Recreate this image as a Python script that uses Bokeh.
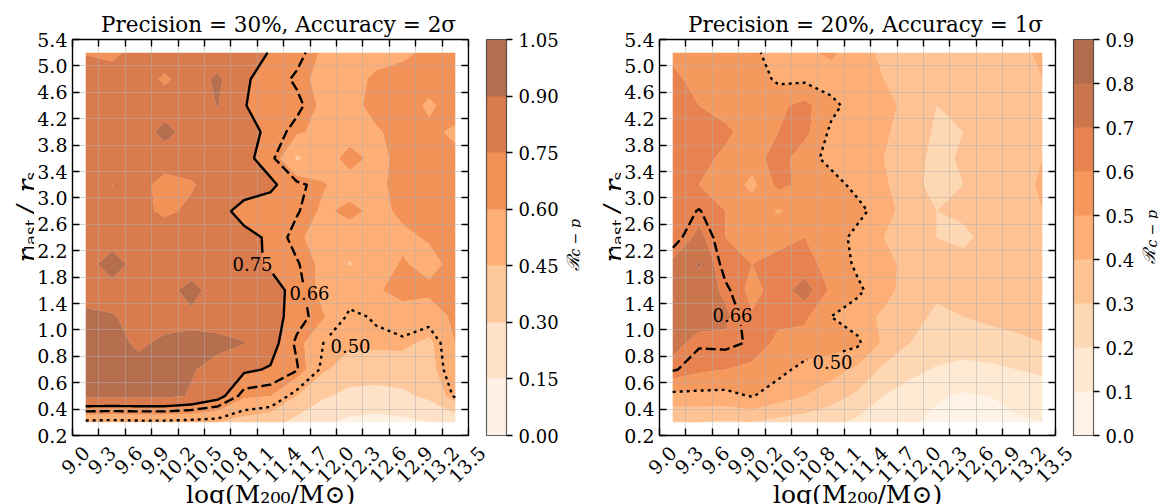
import math
import numpy as np
from contourpy import contour_generator
from bokeh.plotting import figure
from bokeh.layouts import row
from bokeh.models import (BoxAnnotation, ColorBar, FixedTicker, Label, LinearAxis,
                          LinearColorMapper, PrintfTickFormatter, Range1d, Title)
from bokeh.embed import file_html
from bokeh.resources import INLINE

# ---------------------------------------------------------------- data
log_m200 = [9.15, 9.45, 9.75, 10.05, 10.35, 10.65, 10.95, 11.25,
            11.55, 11.85, 12.15, 12.45, 12.75, 13.05, 13.35]
r_last_over_rs = [0.3, 0.5, 0.7, 0.9, 1.2, 1.6, 2.0, 2.4, 2.8,
                  3.2, 3.6, 4.0, 4.4, 4.8, 5.2]

x_tick_labels = ["9.0", "9.3", "9.6", "9.9", "10.2", "10.5", "10.8", "11.1",
                 "11.4", "11.7", "12.0", "12.3", "12.6", "12.9", "13.2", "13.5"]
y_tick_labels = ["0.2", "0.4", "0.6", "0.8", "1.0", "1.4", "1.8", "2.2",
                 "2.6", "3.0", "3.4", "3.8", "4.2", "4.6", "5.0", "5.4"]

levels_p30_a2 = [0.00, 0.15, 0.30, 0.45, 0.60, 0.75, 0.90, 1.05]
levels_p20_a1 = [0.0, 0.1, 0.2, 0.3, 0.4, 0.5, 0.6, 0.7, 0.8, 0.9]

# R_{c-p}: one row per r_last/r_s value, one column per log(M200)
ratio_p30_a2 = [
    [0.47, 0.46, 0.47, 0.47, 0.46, 0.45, 0.40, 0.36, 0.25, 0.17, 0.12, 0.10, 0.12, 0.15, 0.20],
    [0.93, 0.93, 0.93, 0.93, 0.89, 0.80, 0.62, 0.60, 0.45, 0.32, 0.26, 0.25, 0.27, 0.33, 0.52],
    [0.92, 0.93, 0.93, 0.92, 0.91, 0.86, 0.77, 0.74, 0.67, 0.47, 0.38, 0.37, 0.38, 0.40, 0.58],
    [0.93, 0.93, 0.885, 0.92, 0.93, 0.93, 0.905, 0.80, 0.64, 0.50, 0.48, 0.48, 0.48, 0.42, 0.60],
    [0.93, 0.91, 0.86, 0.86, 0.87, 0.85, 0.84, 0.80, 0.70, 0.61, 0.48, 0.51, 0.56, 0.55, 0.62],
    [0.84, 0.84, 0.84, 0.85, 0.95, 0.83, 0.82, 0.81, 0.70, 0.56, 0.55, 0.59, 0.63, 0.62, 0.62],
    [0.83, 0.98, 0.83, 0.82, 0.82, 0.82, 0.80, 0.73, 0.67, 0.57, 0.44, 0.55, 0.61, 0.57, 0.63],
    [0.82, 0.82, 0.83, 0.82, 0.82, 0.81, 0.79, 0.73, 0.62, 0.55, 0.54, 0.55, 0.58, 0.61, 0.62],
    [0.82, 0.81, 0.78, 0.73, 0.77, 0.80, 0.70, 0.70, 0.67, 0.58, 0.63, 0.57, 0.62, 0.63, 0.62],
    [0.82, 0.748, 0.80, 0.70, 0.74, 0.80, 0.82, 0.77, 0.69, 0.61, 0.55, 0.58, 0.63, 0.64, 0.63],
    [0.82, 0.82, 0.83, 0.82, 0.80, 0.81, 0.78, 0.70, 0.43, 0.54, 0.64, 0.57, 0.63, 0.63, 0.62],
    [0.82, 0.83, 0.82, 0.95, 0.83, 0.82, 0.80, 0.72, 0.62, 0.56, 0.55, 0.59, 0.63, 0.62, 0.585],
    [0.82, 0.82, 0.83, 0.82, 0.82, 0.905, 0.755, 0.70, 0.69, 0.57, 0.57, 0.63, 0.65, 0.585, 0.64],
    [0.80, 0.81, 0.82, 0.73, 0.82, 0.93, 0.76, 0.72, 0.64, 0.56, 0.56, 0.62, 0.64, 0.64, 0.63],
    [0.745, 0.72, 0.80, 0.82, 0.82, 0.81, 0.79, 0.745, 0.70, 0.58, 0.55, 0.56, 0.58, 0.62, 0.63],
]

ratio_p20_a1 = [
    [0.30, 0.30, 0.29, 0.30, 0.27, 0.25, 0.22, 0.18, 0.14, 0.11, 0.08, 0.07, 0.08, 0.09, 0.10],
    [0.47, 0.47, 0.47, 0.506, 0.45, 0.40, 0.35, 0.28, 0.20, 0.15, 0.11, 0.09, 0.10, 0.12, 0.14],
    [0.67, 0.62, 0.60, 0.58, 0.53, 0.47, 0.44, 0.38, 0.28, 0.23, 0.19, 0.17, 0.18, 0.20, 0.22],
    [0.73, 0.67, 0.68, 0.65, 0.58, 0.56, 0.55, 0.52, 0.38, 0.30, 0.26, 0.25, 0.26, 0.28, 0.30],
    [0.75, 0.74, 0.72, 0.61, 0.62, 0.62, 0.50, 0.45, 0.38, 0.32, 0.29, 0.30, 0.32, 0.33, 0.34],
    [0.76, 0.76, 0.68, 0.57, 0.64, 0.76, 0.58, 0.52, 0.44, 0.35, 0.31, 0.32, 0.34, 0.36, 0.34],
    [0.72, 0.81, 0.62, 0.60, 0.62, 0.63, 0.57, 0.48, 0.44, 0.36, 0.32, 0.33, 0.35, 0.38, 0.40],
    [0.62, 0.73, 0.60, 0.60, 0.58, 0.60, 0.55, 0.47, 0.40, 0.33, 0.30, 0.28, 0.33, 0.36, 0.38],
    [0.62, 0.665, 0.60, 0.56, 0.49, 0.56, 0.57, 0.53, 0.45, 0.34, 0.30, 0.32, 0.35, 0.37, 0.40],
    [0.63, 0.60, 0.58, 0.47, 0.63, 0.57, 0.54, 0.47, 0.42, 0.32, 0.28, 0.30, 0.33, 0.35, 0.42],
    [0.65, 0.63, 0.58, 0.55, 0.65, 0.54, 0.47, 0.44, 0.40, 0.33, 0.28, 0.31, 0.35, 0.38, 0.40],
    [0.66, 0.63, 0.62, 0.56, 0.60, 0.63, 0.48, 0.44, 0.42, 0.34, 0.29, 0.30, 0.33, 0.36, 0.38],
    [0.64, 0.60, 0.56, 0.56, 0.58, 0.63, 0.53, 0.45, 0.44, 0.36, 0.30, 0.32, 0.31, 0.35, 0.37],
    [0.62, 0.57, 0.55, 0.56, 0.48, 0.48, 0.45, 0.44, 0.40, 0.35, 0.31, 0.33, 0.34, 0.36, 0.40],
    [0.58, 0.55, 0.54, 0.52, 0.46, 0.48, 0.52, 0.44, 0.38, 0.34, 0.31, 0.33, 0.35, 0.37, 0.42],
]

# ---------------------------------------------------------------- geometry / styling
FONT = "DejaVu Serif"
TICK_SIZE = "19px"
CBAR_SIZE = "18px"
FRAME = 396                 # plotted square, 9.0..13.5 by 0.2..5.4
FRAME_W = 412               # frame is a little wider so the last tick label has room
TOP, BOTTOM = 39, 69
X_LO, X_HI = 9.0, 13.5
Y_LO, Y_HI = 0, len(y_tick_labels) - 1
PX_X = FRAME / (X_HI - X_LO)
PX_Y = FRAME / (Y_HI - Y_LO)
X_EDGE = X_LO + FRAME_W / PX_X
LABEL_SHIFT = 13.5 / PX_X   # centres the rotated tick labels under their ticks

ORANGES = ["#fff5eb", "#fee6ce", "#fdd0a2", "#fdae6b", "#fd8d3c",
           "#f16913", "#d94801", "#a63603", "#7f2704"]


def oranges(n):
    """Colour of each of n bands, taken at the band midpoints of the Oranges ramp."""
    anchors = np.array([[int(c[i:i + 2], 16) for i in (1, 3, 5)] for c in ORANGES], float)
    pos = np.linspace(0, 1, len(anchors))
    out = []
    for k in range(n):
        t = (2 * k + 1) / (2 * n)
        rgb = [int(round(np.interp(t, pos, anchors[:, c]))) for c in range(3)]
        out.append("#%02x%02x%02x" % tuple(rgb))
    return out


def fx(px):
    return X_LO + px / PX_X


def fy(py):
    return Y_HI - py / PX_Y


def line_length(ln):
    d = np.diff(ln, axis=0)
    return float(np.hypot(d[:, 0] * PX_X, d[:, 1] * PX_Y).sum())


def cut_line(ln, gap):
    """Densify a contour line and drop the stretch hidden behind its label."""
    gx, gy, hw, hh = gap
    pts = [ln[0]]
    for a, b in zip(ln[:-1], ln[1:]):
        n = max(int(math.hypot((b[0] - a[0]) * PX_X, (b[1] - a[1]) * PX_Y)), 1)
        for t in np.linspace(0, 1, n + 1)[1:]:
            pts.append(a + (b - a) * t)
    pts = np.array(pts)
    keep = ~((np.abs(pts[:, 0] - gx) < hw) & (np.abs(pts[:, 1] - gy) < hh))
    edges = np.flatnonzero(np.diff(np.r_[0, keep.astype(int), 0]))
    xs, ys = [], []
    for s, e in zip(edges[::2], edges[1::2]):
        if e - s >= 2:
            xs.append(pts[s:e, 0].tolist())
            ys.append(pts[s:e, 1].tolist())
    return xs, ys


def style_axis(ax):
    ax.major_tick_in = 7
    ax.major_tick_out = 0
    ax.minor_tick_in = 0
    ax.minor_tick_out = 0
    ax.major_tick_line_color = "black"
    ax.major_tick_line_width = 1.4
    ax.axis_line_color = "black"
    ax.axis_line_width = 1.4


def hide_labels(ax):
    ax.major_label_text_color = None
    ax.major_label_text_font_size = "1px"
    ax.major_label_standoff = 0


def text(fig, x, y, s, size, angle=0.0, align="left", baseline="alphabetic", style="normal"):
    fig.add_layout(Label(x=x, y=y, text=s, angle=angle, text_align=align,
                         text_baseline=baseline, text_font=FONT, text_font_size=size,
                         text_font_style=style, text_color="black"))


def make_main(z_rows, levels, title, lines, cbar_fmt, border_left, border_right):
    x_ticks = [float(t) for t in x_tick_labels]
    y_idx = list(range(len(y_tick_labels)))
    y_pos = np.interp(r_last_over_rs, [float(t) for t in y_tick_labels], y_idx)

    p = figure(frame_width=FRAME_W, frame_height=FRAME,
               x_range=Range1d(X_LO, X_EDGE), y_range=Range1d(Y_LO, Y_HI),
               min_border_left=border_left, min_border_right=border_right,
               min_border_top=TOP, min_border_bottom=BOTTOM,
               output_backend="svg", toolbar_location=None,
               background_fill_color="white", border_fill_color="white")
    p.outline_line_color = None

    colors = oranges(len(levels) - 1)
    X, Y = np.meshgrid(log_m200, y_pos)
    Z = np.array(z_rows)
    filled = p.contour(X, Y, Z, levels, fill_color=colors, fill_alpha=0.7, line_color=None)
    filled.level = "image"

    p.xgrid.ticker = FixedTicker(ticks=x_ticks)
    p.ygrid.ticker = FixedTicker(ticks=y_idx)
    p.grid.grid_line_color = "#b0b0b0"
    p.grid.grid_line_alpha = 0.5
    p.grid.grid_line_width = 1
    yg = p.ygrid[0]
    if "cross_bounds" in yg.properties():
        yg.cross_bounds = (X_LO, X_HI)
    # blank strip between the right-hand axis and the frame edge
    p.add_layout(BoxAnnotation(left=X_HI + 1.2 / PX_X, fill_color="white", fill_alpha=1.0,
                               line_color=None))

    # axes: inward ticks on all four sides, the right one pinned at 13.5
    xa, ya = p.xaxis[0], p.yaxis[0]
    xa.ticker = FixedTicker(ticks=x_ticks, minor_ticks=[])
    xa.bounds = (X_LO, X_HI)
    hide_labels(xa)
    ya.ticker = FixedTicker(ticks=y_idx, minor_ticks=[])
    ya.major_label_overrides = {i: s for i, s in enumerate(y_tick_labels)}
    ya.major_label_text_font = FONT
    ya.major_label_text_font_size = TICK_SIZE
    ya.major_label_text_color = "black"
    ya.major_label_standoff = 5
    top = LinearAxis(ticker=FixedTicker(ticks=x_ticks, minor_ticks=[]), bounds=(X_LO, X_HI))
    right = LinearAxis(ticker=FixedTicker(ticks=y_idx, minor_ticks=[]), fixed_location=X_HI)
    hide_labels(top)
    hide_labels(right)
    p.add_layout(top, "above")
    p.add_layout(right, "right")
    for ax in (xa, ya, top, right):
        style_axis(ax)

    # rotated x tick labels (on a shifted copy of the x range) and the x-axis title
    p.extra_x_ranges = {"ticklabels": Range1d(X_LO - LABEL_SHIFT, X_EDGE - LABEL_SHIFT)}
    lab = LinearAxis(x_range_name="ticklabels",
                     ticker=FixedTicker(ticks=x_ticks, minor_ticks=[]),
                     formatter=PrintfTickFormatter(format="%.1f"),
                     major_label_orientation=math.pi / 4,
                     major_label_text_font=FONT, major_label_text_font_size=TICK_SIZE,
                     major_label_text_color="black", major_label_standoff=14,
                     major_tick_in=0, major_tick_out=0, minor_tick_in=0, minor_tick_out=0,
                     major_tick_line_color=None, minor_tick_line_color=None, axis_line_color=None,
                     axis_label="log(M\u2082\u2080\u2080/M\u2299)\u00a0\u00a0", axis_label_text_font=FONT,
                     axis_label_text_font_size="25px", axis_label_text_font_style="normal",
                     axis_label_text_color="black", axis_label_standoff=-12)
    p.add_layout(lab, "below")

    # contour lines: the main path of each level, with an inline label
    gen = contour_generator(x=X, y=Y, z=Z)
    for level, dash, (lx, ly) in lines:
        segs = [ln for ln in gen.lines(level) if len(ln) > 1]
        main = max(segs, key=line_length)
        cx, cy = fx(lx), fy(ly)
        xs, ys = cut_line(main, (cx, cy, 24 / PX_X, 10 / PX_Y))
        p.multi_line(xs, ys, line_color="black", line_width=2.4, line_dash=dash, line_cap="butt")
        text(p, cx, cy, "%.2f" % level, "18px", align="center", baseline="middle")

    mapper = LinearColorMapper(palette=colors, low=levels[0], high=levels[-1])
    cb = ColorBar(color_mapper=mapper, ticker=FixedTicker(ticks=levels, minor_ticks=[]),
                  formatter=PrintfTickFormatter(format=cbar_fmt),
                  width=20, height=FRAME, location=(414, 0), padding=0, margin=0,
                  scale_alpha=0.7, bar_line_color="#222222", bar_line_width=1.2,
                  major_tick_in=0, major_tick_out=6, major_tick_line_color="black",
                  major_tick_line_width=1.3, minor_tick_line_color=None,
                  major_label_text_font=FONT, major_label_text_font_size=CBAR_SIZE,
                  major_label_text_color="black", label_standoff=6,
                  background_fill_color=None, border_line_color=None)
    p.add_layout(cb)

    p.add_layout(Title(text=title, align="center", text_font=FONT, text_font_size="21.5px",
                       text_font_style="normal", text_color="black", standoff=5,
                       offset=-(FRAME_W - FRAME) / 2), "above")
    return p


def side_strip(width):
    """Axis-less figure beside a panel, sharing its vertical frame (page y 39..435)."""
    s = figure(frame_width=width, frame_height=FRAME, min_border_left=0, min_border_right=0,
               min_border_top=TOP, min_border_bottom=BOTTOM,
               x_range=Range1d(0, width), y_range=Range1d(0, FRAME),
               x_axis_location=None, y_axis_location=None,
               output_backend="svg", toolbar_location=None,
               background_fill_color="white", border_fill_color="white")
    s.outline_line_color = None
    s.grid.visible = False
    return s


def make_y_title(width, frame_gap):
    """Rotated y-axis title r_last / r_s."""
    s = side_strip(width)
    x0 = width + frame_gap
    for piece, size, dx, start, style in [("r", "27px", -42, 262, "italic"),
                                          ("last", "17px", -39, 250, "normal"),
                                          ("/", "27px", -42, 214, "italic"),
                                          ("r", "27px", -42, 192, "italic"),
                                          ("s", "17px", -39, 180, "normal")]:
        text(s, x0 + dx, TOP + FRAME - start, piece, size, angle=math.pi / 2, style=style)
    return s


def make_cbar_title(width, r_at, sub_at):
    """Rotated colour-bar title R_{c-p}."""
    s = side_strip(width)
    text(s, r_at[0], TOP + FRAME - r_at[1], "\u211b", "17px", angle=math.pi / 2, style="italic")
    text(s, sub_at[0], TOP + FRAME - sub_at[1], "c \u2212 p", "14px", angle=math.pi / 2,
         style="italic")
    return s


left_main = make_main(ratio_p30_a2, levels_p30_a2, "Precision = 30%, Accuracy = 2\u03c3",
                      [(0.75, "solid", (180, 224)), (0.66, "10 4", (237, 253)),
                       (0.50, "3 4", (278, 306))], "%.2f", 35, 75)
right_main = make_main(ratio_p20_a1, levels_p20_a1, "Precision = 20%, Accuracy = 1\u03c3",
                       [(0.66, "10 4", (73, 275)), (0.50, "3 4", (173, 322))], "%.1f", 35, 65)

layout = row(make_y_title(34, 35), left_main, make_cbar_title(22, (13, 270), (15, 256)),
             make_y_title(40, 35), right_main, make_cbar_title(28, (12, 263), (15, 247)))
open("out.html", "w").write(file_html(layout, INLINE))
